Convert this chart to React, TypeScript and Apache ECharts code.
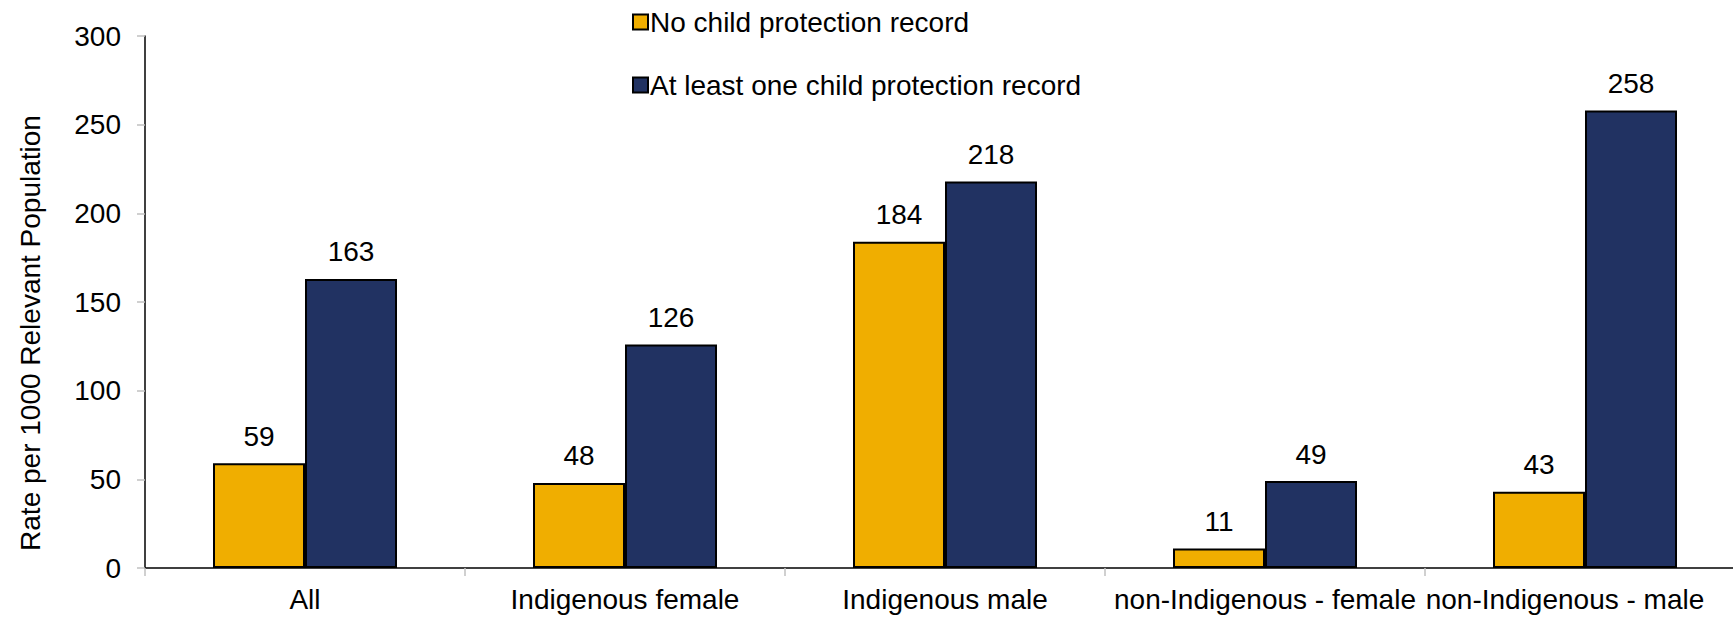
import React, { useEffect, useRef } from "react";
import * as echarts from "echarts";

const categories = [
  "All",
  "Indigenous female",
  "Indigenous male",
  "non-Indigenous - female",
  "non-Indigenous - male",
];
const seriesNames = ["No child protection record", "At least one child protection record"];
const noRecord = [59, 48, 184, 11, 43];
const withRecord = [163, 126, 218, 49, 258];
const yTicks = { min: 0, max: 300, interval: 50 };
const yTitle = "Rate per 1000 Relevant Population";

const FONT = '"Liberation Sans", Arial, Helvetica, sans-serif';
const FS = 28;

export default function App() {
  const ref = useRef<HTMLDivElement>(null);

  useEffect(() => {
    if (!ref.current) return;
    const chart = echarts.init(ref.current, undefined, { renderer: "svg" });
    const barLabel = {
      show: true,
      position: "top",
      distance: 13,
      color: "#000",
      fontFamily: FONT,
      fontSize: FS,
    };
    const lastIndex = categories.length - 1;
    chart.setOption({
      animation: false,
      backgroundColor: "#fff",
      textStyle: { fontFamily: FONT },
      // plot area runs slightly past the right edge of the canvas
      grid: {
        left: 145,
        top: 36,
        bottom: 50,
        width: 1600,
        containLabel: false,
        outerBoundsMode: "none",
      },
      legend: {
        orient: "vertical",
        left: 627,
        top: 3,
        itemWidth: 15,
        itemHeight: 15,
        itemGap: 35,
        icon: "rect",
        textStyle: {
          fontFamily: FONT,
          fontSize: FS,
          color: "#000",
          lineHeight: 28,
          padding: [0, 0, 0, -3],
        },
        data: seriesNames,
      },
      xAxis: {
        type: "category",
        data: categories,
        axisLine: { lineStyle: { color: "#000", width: 1.5 } },
        axisTick: { show: true, length: 8, lineStyle: { color: "#c0c0c0", width: 1.5 } },
        axisLabel: {
          color: "#000",
          fontFamily: FONT,
          fontSize: FS,
          margin: 17,
          interval: 0,
          // the last label is nudged left so it stays on the canvas
          formatter: (v: string, i: number) => (i === lastIndex ? `{last|${v}}` : v),
          rich: {
            last: { fontFamily: FONT, fontSize: FS, color: "#000", padding: [0, 40, 0, 0] },
          },
        },
      },
      yAxis: {
        type: "value",
        min: yTicks.min,
        max: yTicks.max,
        interval: yTicks.interval,
        splitLine: { show: false },
        axisLine: { show: true, lineStyle: { color: "#000", width: 1.5 } },
        axisTick: { show: true, length: 8, lineStyle: { color: "#c0c0c0", width: 1.5 } },
        axisLabel: { color: "#000", fontFamily: FONT, fontSize: FS, margin: 24 },
      },
      graphic: [
        {
          type: "text",
          x: 30,
          y: 333,
          rotation: Math.PI / 2,
          style: {
            text: yTitle,
            fill: "#000",
            font: `${FS}px ${FONT}`,
            align: "center",
            verticalAlign: "middle",
          },
        },
      ],
      series: [
        {
          name: seriesNames[0],
          type: "bar",
          data: noRecord,
          barGap: "0%",
          barCategoryGap: "42.5%",
          itemStyle: { color: "#F0AE00", borderColor: "#000", borderWidth: 2 },
          label: barLabel,
        },
        {
          name: seriesNames[1],
          type: "bar",
          data: withRecord,
          itemStyle: { color: "#213262", borderColor: "#000", borderWidth: 2 },
          label: barLabel,
        },
      ],
    });
    return () => chart.dispose();
  }, []);

  return (
    <div
      ref={ref}
      style={{ position: "fixed", left: 0, top: 0, width: 1733, height: 618 }}
    />
  );
}
